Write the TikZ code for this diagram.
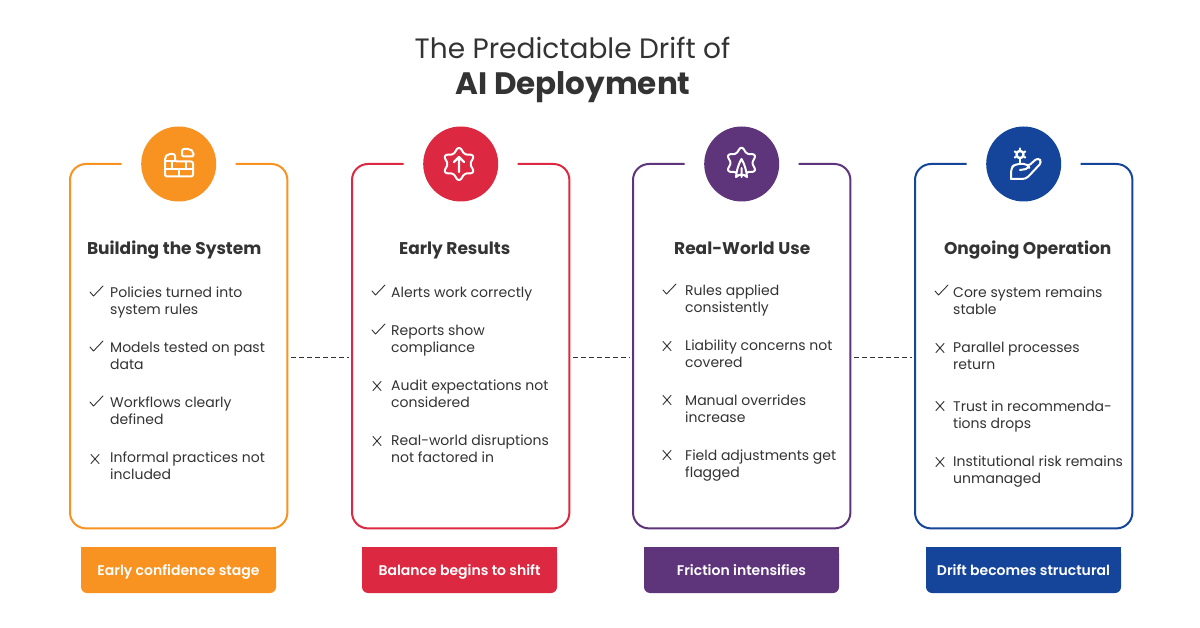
\documentclass[tikz,border=0pt]{standalone}
\usepackage{fontspec}
\setmainfont{Poppins}
\newfontfamily\semibold{Poppins SemiBold}
\definecolor{corange}{HTML}{F89220}
\definecolor{cred}{HTML}{DC2840}
\definecolor{cpurple}{HTML}{5E347B}
\definecolor{cblue}{HTML}{15459B}
\definecolor{ink}{HTML}{333333}
\tikzset{
  titlelight/.style={font=\fontsize{28}{32}\selectfont,text=ink,inner sep=0pt},
  titlebold/.style={font=\fontsize{31}{34}\selectfont\bfseries,text=ink,inner sep=0pt,anchor=base},
  headtext/.style={font=\fontsize{17}{20}\selectfont\bfseries,text=ink,inner sep=0pt,anchor=base},
  itemtext/.style={font=\fontsize{14}{17}\selectfont,text=ink,inner sep=0pt,anchor=west,align=left,yshift=-2pt},
  cardbox/.style={minimum width=217pt,minimum height=364pt,inner sep=0pt},
  badge/.style={circle,minimum size=75pt,inner sep=0pt},
  tag/.style={font=\fontsize{14}{17}\selectfont\semibold,text=white,inner sep=0pt,anchor=base},
  iconline/.style={draw=white,line width=2pt,line cap=round,line join=round},
  markline/.style={draw=ink,line width=0.9pt,line cap=round,line join=round},
  linkline/.style={draw=ink,line width=1pt,dash pattern=on 5pt off 3pt,shorten <=4pt,shorten >=3pt},
}
\newcommand{\cardblock}[7]{% id, left x, colour, heading, heading shift, tag text, tag x
  \node[cardbox,anchor=north west] (card#1) at (#2,164) {};
  \draw[#3,line width=2pt,rounded corners=16pt]
    ([xshift=-57pt]card#1.north) -- (card#1.north west) -- (card#1.south west)
    -- (card#1.south east) -- (card#1.north east) -- ([xshift=57pt]card#1.north);
  \node[badge,fill=#3] (badge#1) at (card#1.north) {};
  \node[headtext] (head#1) at ([xshift=#5pt,yshift=-91pt]card#1.north) {#4};
  \fill[#3,rounded corners=6pt] (#7,547) rectangle ++(195,46);
  \fill[#3] (#7,547) rectangle ++(195,20);
  \node[tag] (tag#1) at ([xshift=97.5pt]#7,575) {#6};
}
% mark x, mark y, text x, text y, text
\newcommand{\ok}[5]{%
  \draw[markline] (#1-6,#2) -- ++(3.5,4) -- ++(9.5,-10);
  \node[itemtext] at (#3,#4) {\strut#5\strut};
}
\newcommand{\no}[5]{%
  \draw[markline] (#1-4,#2-4.5) -- ++(8,9) (#1+4,#2-4.5) -- ++(-8,9);
  \node[itemtext] at (#3,#4) {\strut#5\strut};
}
\begin{document}
\begin{tikzpicture}[x=1pt,y=-1pt]
\useasboundingbox (0,0) rectangle (1200,628);
\fill[white] (0,0) rectangle (1200,628);
\node[titlelight] (title1) at (572.5,48) {The Predictable Drift of};
\node[titlebold] (title2) at (573,95) {AI Deployment};

\cardblock{1}{70}{corange}{Building the System}{-4.5}{Early confidence stage}{81}
\cardblock{2}{352}{cred}{Early Results}{-6}{Balance begins to shift}{362}
\cardblock{3}{633}{cpurple}{Real-World Use}{0.5}{Friction intensifies}{644}
\cardblock{4}{915}{cblue}{Ongoing Operation}{4}{Drift becomes structural}{926}

\draw[linkline] ([yshift=-11pt]card1.east) -- ([yshift=-11pt]card2.west);
\draw[linkline] ([yshift=-11pt]card2.east) -- ([yshift=-11pt]card3.west);
\draw[linkline] ([yshift=-11pt]card3.east) -- ([yshift=-11pt]card4.west);

% card 1
\ok{96}{292}{110}{300.5}{Policies turned into\\system rules}
\ok{96}{347}{110}{355.5}{Models tested on past\\data}
\ok{96}{402}{110}{410.5}{Workflows clearly\\defined}
\no{95}{459}{110}{465.5}{Informal practices not\\included}
% card 2
\ok{378}{291}{391}{292}{Alerts work correctly}
\ok{378}{330}{391}{338.5}{Reports show\\compliance}
\no{377}{386}{391}{393.5}{Audit expectations not\\considered}
\no{377}{441}{391}{448.5}{Real-world disruptions\\not factored in}
% card 3
\ok{669}{290}{685}{298.5}{Rules applied\\consistently}
\no{667}{346}{685}{353.5}{Liability concerns not\\covered}
\no{667}{400}{685}{408.5}{Manual overrides\\increase}
\no{667}{455}{685}{463.5}{Field adjustments get\\flagged}
% card 4
\ok{941}{291}{953}{300.5}{Core system remains\\stable}
\no{940}{348}{953}{355.5}{Parallel processes\\return}
\no{940}{406}{953}{414.5}{Trust in recommenda-\\tions drops}
\no{940}{462}{953}{469.5}{Institutional risk remains\\unmanaged}

% icon 1: brick wall
\draw[iconline,rounded corners=2pt] (175,161.5) -- (175,154) -- (168,154) -- (165,157) -- (165,176.5) -- (193,176.5) -- (193,161.5) -- cycle;
\draw[iconline] (165,161.5) -- (175,161.5) (165,169) -- (193,169) (172,161.5) -- (172,169) (186,161.5) -- (186,169) (179,169) -- (179,176.5);
\draw[iconline,rounded corners=2pt] (182,156.5) -- (182,149) -- (190,149) -- (193.5,152) -- (193.5,156.5) -- cycle;

% icon 2: gear with arrow
\draw[iconline] plot[domain=0:360,samples=181] ({459+(11.8+4.2*pow(abs(cos(3*(\x-90))),3))*cos(\x)},{164-(11.8+4.2*pow(abs(cos(3*(\x-90))),3))*sin(\x)});
\draw[iconline,line width=2.2pt] (459,172) -- (459,157) (454,162) -- (459,157) -- (464,162);

% icon 3: gear with rocket
\draw[iconline] plot[domain=-62:242,samples=153] ({741.5+(11.2+4*pow(abs(cos(3*(\x-90))),3))*cos(\x)},{163-(11.2+4*pow(abs(cos(3*(\x-90))),3))*sin(\x)});
\draw[iconline] (736,177) .. controls (736.5,170) and (739,163) .. (741.5,159) .. controls (744,163) and (746.5,170) .. (747,177) (736,177) -- (739,175) -- (744,175) -- (747,177) (741.5,168) -- (741.5,177);

% icon 4: hand with gear
\draw[iconline,line width=2.4pt] (1020,154.5) circle (3.6pt);
\foreach \a in {30,90,...,330} \draw[iconline,line width=2.2pt] (1020,154.5) ++(\a:5pt) -- ++(\a:1pt);
\draw[iconline] (1020,160.5) -- (1020,164);
\draw[iconline,rounded corners=4pt] (1011,179) -- (1011,168) -- (1015,164) -- (1028,164) -- (1029.5,168.5) -- (1020,170);
\draw[iconline,rounded corners=3.5pt] (1011,179) -- (1026,179) -- (1042,162) -- (1038,157.5) -- (1029.5,165);
\end{tikzpicture}
\end{document}
